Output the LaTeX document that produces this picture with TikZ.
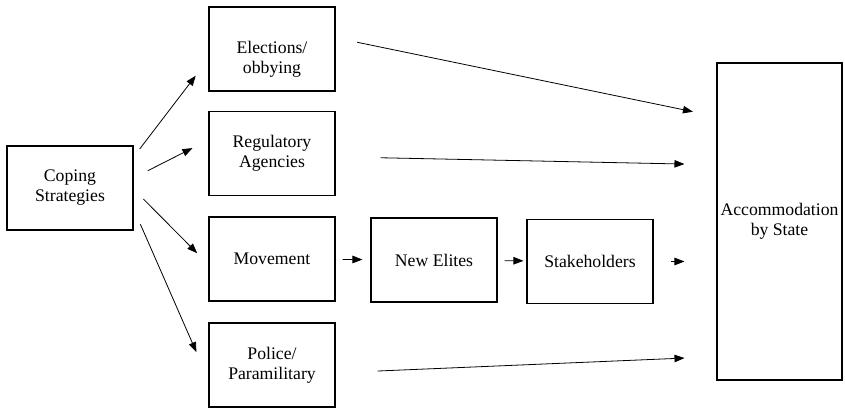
\documentclass[tikz,border=0pt]{standalone}
\usepackage{fontspec}
\setmainfont{Liberation Serif}
\newfontfamily\timesfont{Liberation Serif}
\usetikzlibrary{arrows.meta}

\begin{document}
\begin{tikzpicture}[
        x=1pt, y=1pt,
        stage/.style={rectangle, draw, line width=1.1pt, align=center, minimum width=126pt, minimum height=84pt, inner sep=0pt, font=\timesfont\fontsize{17.7}{20}\selectfont},
        arrow/.style={line width=0.8pt, -{Triangle[length=10pt,width=7.5pt]}}
    ]
    \useasboundingbox (0,0) rectangle (845,409);

    \node[stage] (coping) at (70,221) {Coping\\Strategies};
    \node[stage, label={[align=center, font=\timesfont\fontsize{17.7}{20}\selectfont, yshift=-10pt]center:{Elections/\\obbying}}] (elections) at (272,360) {};
    \node[stage] (regulatory) at (272,255.5) {Regulatory\\Agencies};
    \node[stage] (movement) at (272,150) {Movement};
    \node[stage] (police) at (272,44) {Police/\\Paramilitary};
    \node[stage] (newelites) at (434,149) {New Elites};
    \node[stage] (stakeholders) at (590,147.5) {Stakeholders};
    \node[stage, minimum width=125pt, minimum height=317pt] (accommodation) at (779.5,187.5) {Accommodation\\by State};

    \draw[arrow, shorten <=10pt, shorten >=21pt] (coping.26) -- (elections.189);
    \draw[arrow, shorten <=16pt, shorten >=18pt] (coping.9) -- (regulatory.168);
    \draw[arrow, shorten <=14pt, shorten >=16pt] (coping.359) -- (movement.185);
    \draw[arrow, shorten <=17pt, shorten >=30pt] (coping.342) -- (police.193);

    \draw[arrow, shorten <=22pt, shorten >=24pt] (elections.10) -- (accommodation.121);
    \draw[arrow, shorten <=45pt, shorten >=32pt] (regulatory.357) -- (accommodation.138);
    \draw[arrow, shorten <=7pt, shorten >=8pt] (movement) -- (newelites);
    \draw[arrow, shorten <=7pt, shorten >=3pt] (newelites) -- (stakeholders);
    \draw[arrow, shorten <=17pt, shorten >=32pt] (stakeholders.east) -- (stakeholders.east -| accommodation.west);
    \draw[arrow, shorten <=42pt, shorten >=32pt] (police.353) -- (accommodation.245);
\end{tikzpicture}
\end{document}
